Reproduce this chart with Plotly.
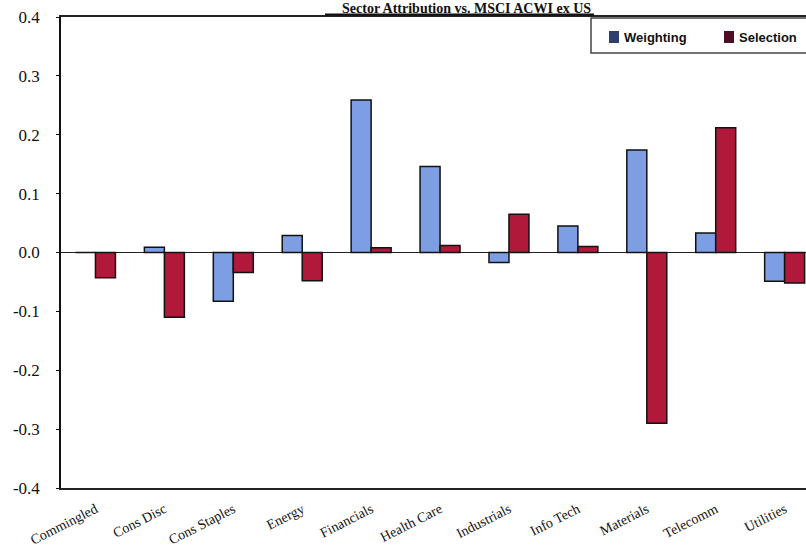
import plotly.graph_objects as go

categories = ["Commingled", "Cons Disc", "Cons Staples", "Energy", "Financials",
              "Health Care", "Industrials", "Info Tech", "Materials", "Telecomm", "Utilities"]
weighting = [0.0, 0.009, -0.083, 0.029, 0.259, 0.146, -0.017, 0.045, 0.174, 0.033, -0.049]
selection = [-0.043, -0.110, -0.034, -0.048, 0.008, 0.012, 0.065, 0.010, -0.290, 0.212, -0.052]
y_ticks = [-0.4, -0.3, -0.2, -0.1, 0.0, 0.1, 0.2, 0.3, 0.4]
y_tick_labels = ["-0.4", "-0.3", "-0.2", "-0.1", "0.0", "0.1", "0.2", "0.3", "0.4"]
title_text = "Sector Attribution vs. MSCI ACWI ex US"
legend_names = ["Weighting", "Selection"]

W, H = 806, 549
ML, MR, MT, MB = 61, 0, 17, 61
plot_h = H - MT - MB

def py(px):
    # pixel (from top) -> paper y
    return 1 - (px - MT) / plot_h

def px_x(px):
    return (px - ML) / (W - ML - MR)

fig = go.Figure()
fig.add_trace(go.Bar(x=categories, y=weighting, name=legend_names[0],
                     marker=dict(color="#7e9ee3", line=dict(color="#111111", width=1.5)),
                     showlegend=False))
fig.add_trace(go.Bar(x=categories, y=selection, name=legend_names[1],
                     marker=dict(color="#b1193b", line=dict(color="#111111", width=1.5)),
                     showlegend=False))

fig.update_layout(
    width=W, height=H,
    margin=dict(l=ML, r=MR, t=MT, b=MB, pad=0),
    paper_bgcolor="white", plot_bgcolor="white",
    barmode="group", bargap=0.42, bargroupgap=0,
    font=dict(family="Liberation Serif", color="#111111"),
    xaxis=dict(range=[-0.5, 10.31], showline=True, linecolor="#222222", linewidth=1.5,
               mirror=True, ticks="", tickangle=-27,
               tickfont=dict(family="Liberation Serif", size=14),
               ticklabelstandoff=6, showgrid=False, zeroline=False),
    yaxis=dict(range=[-0.4, 0.4], tickvals=y_ticks, ticktext=y_tick_labels,
               showline=True, linecolor="#111111", linewidth=1.5, mirror=False,
               ticks="outside", ticklen=3, tickcolor="#111111",
               tickfont=dict(family="Liberation Serif", size=17),
               ticklabelstandoff=13, showgrid=False,
               zeroline=True, zerolinecolor="#222222", zerolinewidth=1),
    showlegend=False,
)

# Title (underlined, bold serif)
fig.add_annotation(text="<b>" + title_text + "</b>", xref="paper", yref="paper",
                   x=px_x(466), y=py(0), xanchor="center", yanchor="top",
                   showarrow=False, borderpad=0,
                   font=dict(family="Liberation Serif", size=14, color="#111111"))
fig.add_shape(type="line", xref="paper", yref="paper",
              x0=px_x(325), x1=px_x(594), y0=py(14.5), y1=py(14.5),
              line=dict(color="#111111", width=2))

# Legend box
fig.add_shape(type="rect", xref="paper", yref="paper",
              x0=px_x(591), x1=px_x(830), y0=py(18), y1=py(53),
              line=dict(color="#444444", width=1.5), fillcolor="white", layer="above")
legend_colors = ["#2f3f6d", "#4e0d22"]
sq_x = [609, 724]
txt_x = [622, 737]
for name, col, sx, tx in zip(legend_names, legend_colors, sq_x, txt_x):
    fig.add_shape(type="rect", xref="paper", yref="paper",
                  x0=px_x(sx), x1=px_x(sx + 10), y0=py(31), y1=py(43),
                  line=dict(width=0), fillcolor=col, layer="above")
    fig.add_annotation(text="<b>" + name + "</b>", xref="paper", yref="paper",
                       x=px_x(tx), y=py(37), xanchor="left", yanchor="middle",
                       showarrow=False,
                       font=dict(family="Liberation Sans", size=13, color="#111111"))

fig.write_html("out.html")
